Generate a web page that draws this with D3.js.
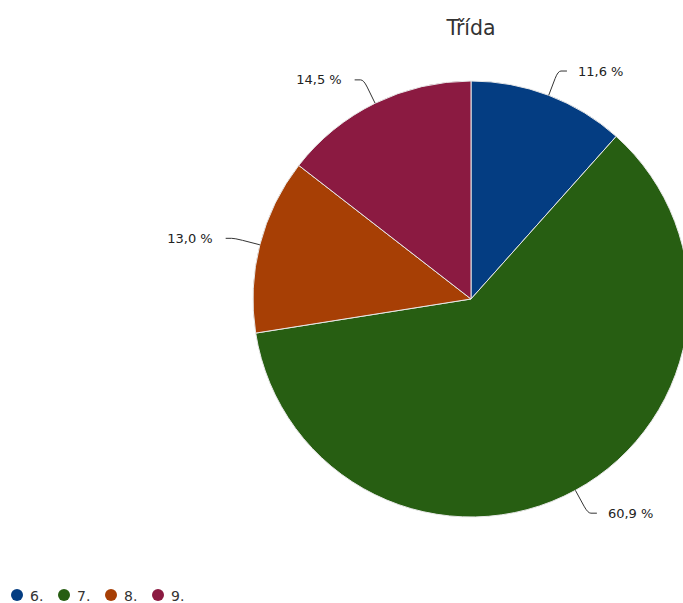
<!DOCTYPE html>
<html><head><meta charset="utf-8">
<script src="https://cdn.jsdelivr.net/npm/d3@7"></script>
<style>html,body{margin:0;padding:0;background:#fff;overflow:hidden}svg{display:block;font-family:"DejaVu Sans",sans-serif}</style>
</head><body>
<svg id="c" width="683" height="603"></svg>
<script>
const title = "Třída";
const categories = ["6.", "7.", "8.", "9."];
const values = [11.6, 60.9, 13.0, 14.5];
const colors = ["#043d82", "#275e12", "#a73f05", "#8b1a41"];

const svg = d3.select("#c");
const cx = 471, cy = 299, R = 218;

svg.append("text").attr("x", cx).attr("y", 35).attr("text-anchor", "middle")
  .attr("font-size", 20.5).attr("fill", "#333").text(title);

const data = categories.map((c, i) => ({cat: c, value: values[i], color: colors[i]}));
const pie = d3.pie().value(d => d.value).sort(null);
const arcs = pie(data);
const arc = d3.arc().innerRadius(0).outerRadius(R);

const g = svg.append("g").attr("transform", `translate(${cx},${cy})`);
g.selectAll("path.slice").data(arcs).join("path").attr("class", "slice")
  .attr("d", arc).attr("fill", d => d.data.color)
  .attr("stroke", "#e8e8e8").attr("stroke-width", 1);

const fmt = v => d3.format(".1f")(v).replace(".", ",") + " %";
arcs.forEach(a => {
  const m = (a.startAngle + a.endAngle) / 2;
  const s = Math.sin(m), c = -Math.cos(m);
  const p0 = [R * s, R * c];
  const e = [(R + 26) * s, (R + 26) * c];
  const pre = [(R + 18) * s, (R + 18) * c];
  const dir = s >= 0 ? 1 : -1;
  const p2 = [e[0] + dir * 9, e[1]];
  const mid = [e[0] + dir * 3, e[1]];
  g.append("path")
    .attr("d", `M${p0}L${pre}Q${e} ${mid}L${p2}`)
    .attr("fill", "none").attr("stroke", "#333").attr("stroke-width", 1);
  g.append("text").attr("x", p2[0] + dir * (dir > 0 ? 11 : 13)).attr("y", p2[1] + 4.5)
    .attr("text-anchor", dir > 0 ? "start" : "end")
    .attr("font-size", 13).attr("fill", "#222").text(fmt(a.data.value));
});

const lg = svg.append("g");
const items = lg.selectAll("g").data(data).join("g")
  .attr("transform", (d, i) => `translate(${17 + i * 47},595)`);
items.append("circle").attr("r", 6).attr("fill", d => d.color);
items.append("text").attr("x", 13).attr("y", 6).attr("font-size", 14)
  .attr("fill", "#333").text(d => d.cat);
</script>
</body></html>
